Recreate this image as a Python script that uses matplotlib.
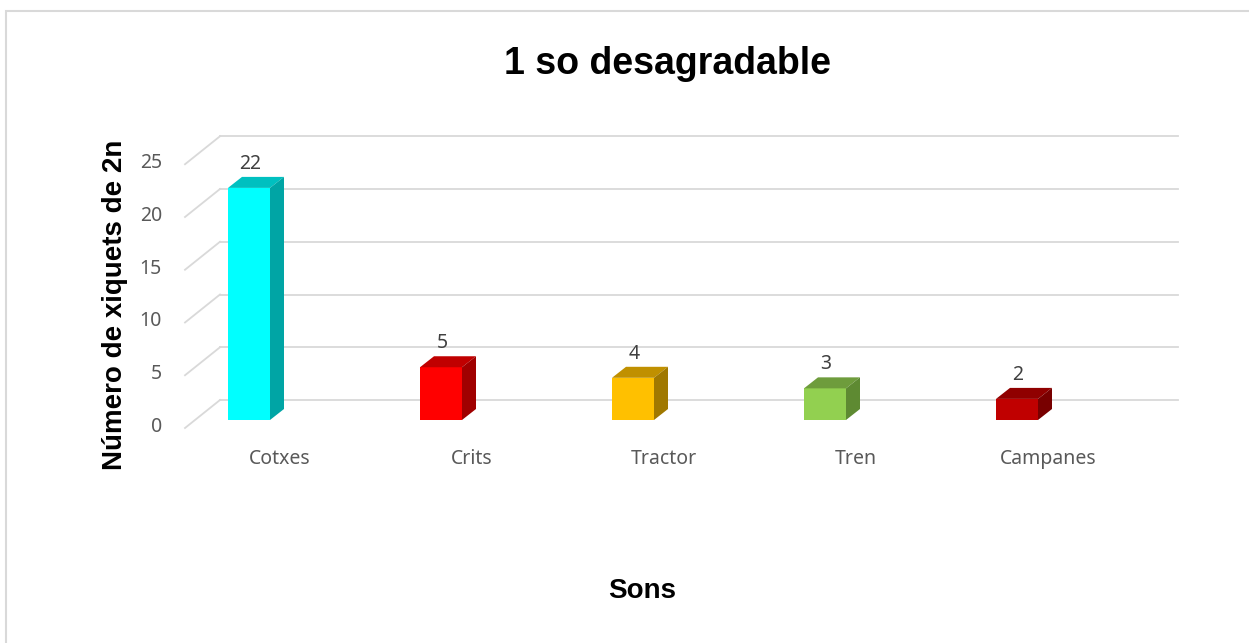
import matplotlib
matplotlib.use("Agg")
import matplotlib.pyplot as plt
from matplotlib.patches import Polygon, Rectangle

# data
categories = ["Cotxes", "Crits", "Tractor", "Tren", "Campanes"]
values = [22, 5, 4, 3, 2]
front_colors = ["#00FFFF", "#FF0000", "#FFC000", "#92D050", "#C00000"]
top_colors = ["#00C0C0", "#C00000", "#C09000", "#6E9C3C", "#900000"]
side_colors = ["#00A5A5", "#A00000", "#A07800", "#5E8A32", "#780000"]
yticks = [0, 5, 10, 15, 20, 25]

W, H = 1249, 643
fig = plt.figure(figsize=(W / 100, H / 100), dpi=100)

# figure frame
fig.patches.append(Rectangle((6 / W, -0.1), 1.2, (H - 11) / H + 0.1, transform=fig.transFigure,
                             fill=False, edgecolor="#D9D9D9", linewidth=1.5))

# axes = plane of the bars' front faces (pixel layout)
left_px, right_px = 195, 1153
base_px, ppu = 420, 10.55  # px per unit on y
ymax = 25
ax = fig.add_axes([left_px / W, (H - base_px) / H, (right_px - left_px) / W, ymax * ppu / H])
ppx = 192.0  # px per category
x0 = (left_px - 249) / ppx
x1 = (right_px - 249) / ppx
ax.set_xlim(x0, x1)
ax.set_ylim(0, ymax)
ax.axis("off")

def dx(px):
    return px / ppx

def dy(px):
    return px / ppu

grid_c = "#D9D9D9"
for v in yticks:
    # back wall line
    ax.plot([x0 + dx(25), x1 + dx(25)], [v + dy(20), v + dy(20)], color=grid_c, lw=1.3, zorder=1, clip_on=False)
    # side wall diagonal
    ax.plot([x0 - dx(10), x0 + dx(25)], [v - dy(8), v + dy(20)], color=grid_c, lw=1.3, zorder=1, clip_on=False)
    ax.text(x0 - dx(33), v - dy(7), str(v), ha="right", va="center", fontsize=14,
            family="Noto Sans", color="#595959")

bw = 42 / ppx
ddx, ddy = dx(14), dy(11)
for i, (v, fc, tc, sc) in enumerate(zip(values, front_colors, top_colors, side_colors)):
    l, r = i - bw / 2, i + bw / 2
    ax.bar(i, v, width=bw, color=fc, zorder=3)
    ax.add_patch(Polygon([(l, v), (r, v), (r + ddx, v + ddy), (l + ddx, v + ddy)],
                         closed=True, facecolor=tc, edgecolor="none", zorder=3, clip_on=False))
    ax.add_patch(Polygon([(r, 0), (r + ddx, ddy), (r + ddx, v + ddy), (r, v)],
                         closed=True, facecolor=sc, edgecolor="none", zorder=3, clip_on=False))
    ax.text(i + dx(1), v + dy(24), str(v), ha="center", va="center", fontsize=14,
            family="Noto Sans", color="#404040", clip_on=False)
    ax.text(i + dx(31), -dy(39), categories[i], ha="center", va="center", fontsize=14,
            family="Noto Sans", color="#595959", clip_on=False)

fig.text(668 / W, (H - 74) / H, "1 so desagradable", ha="center", va="baseline",
         fontsize=27, fontweight="bold", family="Liberation Sans")
fig.text(642 / W, (H - 598) / H, "Sons", ha="center", va="baseline",
         fontsize=20, fontweight="bold", family="Liberation Sans")
fig.text(115 / W, (H - 305) / H, "Número de xiquets de 2n", ha="center", va="center",
         rotation=90, fontsize=20, fontweight="bold", family="Liberation Sans")

fig.savefig("out.png", dpi=100)
